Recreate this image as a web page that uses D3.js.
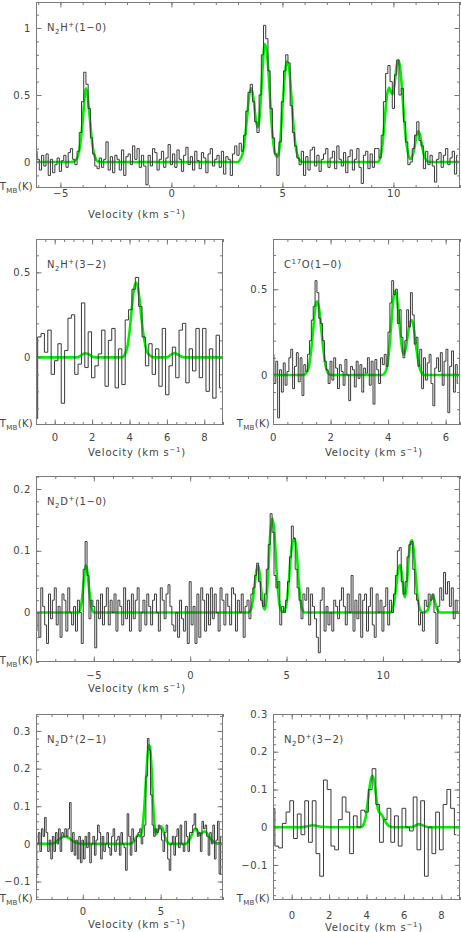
<!DOCTYPE html>
<html><head><meta charset="utf-8">
<script src="https://cdn.jsdelivr.net/npm/d3@7"></script>
<style>html,body{margin:0;padding:0;background:#fff;} svg{display:block;}</style>
</head><body><svg id="c" width="461" height="932"></svg>
<script>
// ---------- DATA ----------
// N2H+(1-0): observed spectrum (channel start -6.1 km/s, width 0.1 km/s)
const n2h10Start = -6.1, n2h10Width = 0.1;
const n2h10Obs = [.08,.02,-.06,.05,-.03,.06,-.1,.02,-.08,-.02,
  .03,-.07,.01,.05,-.04,.07,.1,
  .02,-.02,.08,.22,.45,.67,.58,.4,.18,.06,-.03,
  -.05,.03,-.04,.02,.15,-.06,.04,-.08,.05,.02,-.06,.09,
  -.1,.04,.06,-.02,.12,.02,.1,-.04,.05,-.03,
  -.17,
  .05,-.03,.1,.07,-.06,.02,.08,-.04,.03,.13,-.02,
  .06,-.04,.09,.02,-.07,.05,.11,-.02,.04,-.06,
  .08,.01,-.05,.07,.03,-.08,.06,.1,-.03,.02,
  .05,-.04,.08,-.09,.04,.02,-.1,.06,.12,
  .05,.14,.08,.2,.38,.52,.58,.45,.3,.22,.5,.8,1.02,.92,.68,.4,.18,.06,-.1,.15,.45,.68,.8,.74,.42,.22,.12,.03,-.02,.08,
  -.1,.04,-.06,.09,.11,-.03,.05,-.07,.02,.06,
  .1,-.04,.03,.08,-.05,.12,.02,-.03,.07,-.08,
  .04,.09,-.06,.02,.1,-.04,-.16,.05,.08,-.05,
  .06,-.04,.1,.1,.03,.2,.45,.66,.72,.6,
  .4,.65,.76,.5,.55,.3,.15,-.02,.0,.1,
  .2,.3,.16,.12,-.05,.08,-.02,.05,-.03,-.15,
  .02,.07,-.04,.05,.1,-.02,.03,.08,-.09,.05];
// N2H+(1-0): hyperfine fit [velocity, T]
const n2h10Fit = [[-6.1,0],[-4.5,0],[-4.4,.004],[-4.3,.016],[-4.2,.05],[-4.1,.14],[-4.0,.3],[-3.9,.5],[-3.85,.55],[-3.8,.52],[-3.7,.37],[-3.6,.19],[-3.5,.07],[-3.4,.02],[-3.3,.004],[-3.2,0],
  [3.0,0],[3.1,.02],[3.2,.06],[3.3,.16],[3.4,.32],[3.5,.49],[3.6,.55],[3.7,.47],[3.8,.32],[3.88,.26],[3.95,.3],[4.0,.4],[4.1,.68],[4.2,.88],[4.3,.82],[4.4,.6],[4.5,.32],[4.6,.13],[4.7,.05],[4.77,.04],[4.85,.08],[4.9,.15],[5.0,.4],[5.1,.63],[5.2,.75],[5.3,.7],[5.4,.5],[5.5,.27],[5.6,.11],[5.7,.04],[5.8,.01],[5.9,0],
  [9.3,0],[9.4,.03],[9.5,.12],[9.6,.3],[9.7,.48],[9.8,.555],[9.9,.52],[9.96,.505],[10.05,.58],[10.15,.72],[10.22,.76],[10.3,.71],[10.4,.52],[10.5,.29],[10.6,.12],[10.7,.04],[10.77,.02],[10.85,.04],[10.95,.11],[11.05,.2],[11.13,.23],[11.2,.2],[11.3,.11],[11.4,.04],[11.5,.01],[11.6,0],[13,0]];

// N2H+(3-2)
const n2h32Start = -1, n2h32Width = 0.18;
const n2h32Obs = [-.36,.12,.14,.03,.16,-.1,-.02,.08,-.27,.04,
  .23,.25,-.1,-.04,.32,-.06,.15,-.12,-.05,.02,
  .16,-.17,.1,.17,-.18,.05,-.16,.22,.28,.4,
  .47,.3,.12,-.05,.08,-.1,.05,-.17,.17,-.22,
  -.05,.06,-.12,.16,.2,-.15,.05,-.08,.17,-.12,
  .17,-.2,.05,-.24,.13,-.18];
const n2h32Fit = [[-1,0],[1.2,0],[1.4,.01],[1.6,.024],[1.8,.02],[2.0,.005],[2.2,0],[3.6,0],[3.8,.03],[3.9,.07],[4.0,.15],[4.1,.26],[4.2,.37],[4.3,.43],[4.37,.44],[4.45,.41],[4.55,.33],[4.65,.22],[4.75,.13],[4.85,.07],[4.95,.03],[5.1,.01],[5.3,0],[6.0,0],[6.2,.015],[6.4,.025],[6.6,.015],[6.8,.003],[7.0,0],[9,0]];

// C17O(1-0)
const c17oStart = 0, c17oWidth = 0.065;
const c17oObs = [.12,-.05,.08,-.25,.03,-.1,.07,-.06,.02,.1,
  .15,-.08,.05,.13,-.04,.1,-.12,.06,
  .02,.12,.2,.32,.4,.55,.48,.33,.3,.2,.08,.03,-.05,
  .08,-.03,.1,.04,-.08,.06,.02,-.06,.09,.0,
  -.15,.05,.03,-.07,.08,-.02,.06,-.1,.04,.01,
  .1,-.06,.08,-.17,.09,.03,-.05,.1,.06,
  .12,.05,.25,.42,.55,.47,.5,.3,.38,.22,.1,.2,.38,.28,.48,.35,.18,.22,.05,.15,
  -.08,.1,-.03,.07,.12,-.05,-.18,.04,.1,.02,
  .13,-.06,.08,.15,-.22,.05,.14,-.1,.06,-.05];
const c17oFit = [[0,0],[1.05,0],[1.15,.01],[1.25,.05],[1.33,.15],[1.4,.27],[1.47,.39],[1.53,.43],[1.6,.39],[1.67,.28],[1.75,.15],[1.82,.06],[1.9,.015],[2.0,0],
  [3.8,0],[3.9,.015],[3.98,.06],[4.05,.17],[4.12,.32],[4.18,.44],[4.24,.49],[4.3,.46],[4.37,.35],[4.44,.22],[4.5,.14],[4.55,.12],[4.62,.16],[4.7,.25],[4.77,.31],[4.82,.32],[4.88,.29],[4.95,.2],[5.02,.11],[5.1,.04],[5.18,.01],[5.25,0],[6.5,0]];

// N2D+(1-0)
const n2d10Start = -8, n2d10Width = 0.1;
const n2d10Obs = [-.03,.0,-.04,.04,.01,-.02,-.05,.03,-.01,.02,
  .04,-.02,.01,-.04,.03,.02,-.03,.04,.0,-.02,
  .01,-.03,.02,.0,-.05,.07,.115,.06,-.01,.02,
  .01,-.057,.02,-.01,.03,-.02,.01,.04,-.02,.02,
  .0,.03,-.03,.02,.01,-.02,.04,-.01,.02,-.03,
  .03,-.01,.02,.04,-.03,.0,.02,-.02,.03,.01,
  -.02,.02,.03,.0,-.03,.04,.02,-.01,.03,.045,
  .01,-.02,-.03,.0,-.04,.02,-.01,-.03,.01,-.05,
  .05,-.02,.01,-.05,.03,-.04,.04,.02,-.03,.03,
  -.02,.04,-.01,.03,.0,-.03,.04,.02,-.02,.03,
  .01,-.02,.04,.03,-.03,.02,.0,.03,-.04,.01,
  .02,-.01,.03,.04,.06,.08,.05,.02,.01,.03,.07,.11,.16,.13,.06,.04,.05,-.02,.01,.0,.02,.05,.09,.14,.12,.07,.04,.02,-.01,.03,
  .02,.04,-.02,.03,.01,-.01,-.04,-.065,.02,.04,
  -.03,.01,-.02,.0,-.03,.02,.01,-.01,.02,.04,
  .01,-.02,.03,.0,.06,-.03,.02,-.01,.03,-.04,
  .02,.03,-.03,.01,.04,-.02,-.04,.03,.0,.02,
  -.03,.01,.04,-.02,.02,.0,.03,.06,.1,.105,
  .05,.03,.05,.09,.11,.115,.07,.03,.02,-.02,
  .0,-.03,.02,.01,.03,.02,.03,.0,-.05,.01,
  .04,.02,.065,.03,.05,.01,.04,-.01,.02,.0];
const n2d10Fit = [[-8,0],[-5.8,0],[-5.7,.006],[-5.6,.025],[-5.5,.058],[-5.42,.076],[-5.35,.07],[-5.25,.04],[-5.15,.013],[-5.05,.002],[-4.95,0],
  [3.0,0],[3.15,.005],[3.25,.02],[3.35,.046],[3.45,.07],[3.52,.076],[3.6,.065],[3.7,.033],[3.8,.01],[3.87,.005],[3.95,.018],[4.05,.065],[4.15,.125],[4.27,.152],[4.37,.13],[4.47,.075],[4.57,.03],[4.67,.008],[4.8,.001],[4.9,.004],[5.0,.015],[5.1,.045],[5.22,.09],[5.32,.115],[5.42,.12],[5.52,.1],[5.62,.055],[5.72,.02],[5.82,.005],[5.95,0],
  [10.4,0],[10.5,.006],[10.6,.02],[10.7,.045],[10.8,.07],[10.9,.077],[11.0,.058],[11.1,.028],[11.15,.025],[11.25,.05],[11.35,.092],[11.45,.115],[11.52,.117],[11.6,.1],[11.7,.06],[11.8,.025],[11.9,.007],[12.0,.001],[12.1,0],[12.3,.003],[12.42,.013],[12.5,.022],[12.58,.027],[12.66,.022],[12.75,.011],[12.85,.003],[12.95,0],[14,0]];

// N2D+(2-1)
const n2d21Start = -3, n2d21Width = 0.1;
const n2d21Obs = [-.09,.0,.03,-.02,.04,.02,.07,.03,-.02,.01,
  -.04,.02,-.02,.03,.0,.04,-.02,.03,.02,.04,
  .02,.04,.11,-.02,.03,-.03,.01,-.04,.02,-.05,
  .01,-.04,.02,-.01,.03,-.05,.0,.02,-.03,.01,
  .05,.03,-.04,.02,-.02,.0,.03,-.01,-.03,.02,
  .04,-.02,.01,.02,-.03,.03,.0,-.01,-.07,.08,
  .02,-.03,.04,.01,-.02,.02,.03,.04,.0,.02,
  .05,.18,.28,.25,.13,.05,.02,.04,.03,.05,
  .04,.01,-.02,.03,.05,-.04,-.07,.0,.02,-.03,
  .02,.04,-.01,.05,.0,-.02,.06,.02,-.02,.03,
  .03,.05,.08,.04,.02,.03,-.02,.06,.04,.05,
  .02,-.03,.03,.0,.05,-.04,.01,.06,-.08,.02];
const n2d21Fit = [[-3,0],[-2.0,0],[-1.8,.003],[-1.6,.009],[-1.4,.016],[-1.2,.019],[-1.0,.018],[-0.8,.013],[-0.6,.007],[-0.4,.003],[-0.2,.001],[0,0],
  [3.0,0],[3.2,.003],[3.35,.012],[3.5,.022],[3.58,.024],[3.68,.02],[3.78,.03],[3.9,.07],[4.0,.13],[4.1,.2],[4.2,.25],[4.28,.262],[4.36,.24],[4.45,.17],[4.55,.08],[4.65,.035],[4.72,.026],[4.82,.035],[4.95,.044],[5.05,.046],[5.15,.038],[5.25,.022],[5.38,.008],[5.5,.002],[5.6,0],
  [6.6,0],[6.75,.005],[6.9,.015],[7.05,.03],[7.2,.04],[7.3,.039],[7.42,.028],[7.52,.024],[7.65,.029],[7.8,.033],[7.95,.03],[8.1,.02],[8.3,.009],[8.5,.003],[8.7,.001],[8.85,0],[9,0]];

// N2D+(3-2)
const n2d32Start = -1, n2d32Width = 0.2;
const n2d32Obs = [.05,-.05,-.055,.01,.04,.07,-.03,.035,-.02,.07,
  -.04,.07,-.07,-.13,.125,.1,-.05,-.06,.02,.08,
  .04,-.07,.03,.0,.045,.04,.1,.155,.06,-.04,
  .02,.05,-.04,.03,-.05,.05,.0,-.01,.08,-.06,
  .07,-.13,.0,-.07,.04,-.06,.06,.1,.05,-.02];
const n2d32Fit = [[-1,0],[0.5,0],[0.8,.002],[1.1,.005],[1.3,.004],[1.6,.001],[2.0,0],[3.7,0],[3.85,.008],[3.95,.025],[4.05,.06],[4.15,.1],[4.25,.13],[4.33,.136],[4.42,.12],[4.52,.08],[4.6,.05],[4.68,.04],[4.75,.036],[4.85,.03],[4.95,.02],[5.05,.011],[5.15,.005],[5.3,.001],[5.45,0],[6.4,0],[6.6,.004],[6.8,.008],[7.0,.005],[7.2,.001],[7.4,0],[9,0]];

// Tick values (labelled)
const xTicksWide = [-5, 0, 5, 10];
const xTicksEven = [0, 2, 4, 6, 8];
const xTicksC17O = [0, 2, 4, 6];
const xTicksN2D21 = [0, 5];
const yTicksN2H10 = [0, 0.5, 1];
const yTicksHalf = [0, 0.5];
const yTicksN2D10 = [0, 0.1, 0.2];
const yTicksN2D = [-0.1, 0, 0.1, 0.2, 0.3];

// Titles: [text, mode]
const titleN2H10 = [['N'],['2','sub'],['H'],['+','sup'],['(1−0)']];
const titleN2H32 = [['N'],['2','sub'],['H'],['+','sup'],['(3−2)']];
const titleC17O = [['C'],['17','sup'],['O(1−0)']];
const titleN2D10 = [['N'],['2','sub'],['D'],['+','sup'],['(1−0)']];
const titleN2D21 = [['N'],['2','sub'],['D'],['+','sup'],['(2−1)']];
const titleN2D32 = [['N'],['2','sub'],['D'],['+','sup'],['(3−2)']];

// ---------- LAYOUT ----------
const panels = [
  {id:'a', title:titleN2H10, obs:n2h10Obs, v0:n2h10Start, dv:n2h10Width, fit:n2h10Fit,
   xd:[-6.1,13], yd:[-0.194,1.194], box:[36,2,460,188], xt:xTicksWide, xm:1, yt:yTicksN2H10, ym:0.1, xpad:2, vel:29.5},
  {id:'b', title:titleN2H32, obs:n2h32Obs, v0:n2h32Start, dv:n2h32Width, fit:n2h32Fit,
   xd:[-1,9], yd:[-0.398,0.696], box:[36,239,223,425], xt:xTicksEven, xm:0.5, yt:yTicksHalf, ym:0.1, xpad:9, vel:31},
  {id:'c', title:titleC17O, obs:c17oObs, v0:c17oStart, dv:c17oWidth, fit:c17oFit,
   xd:[0,6.5], yd:[-0.292,0.793], box:[273,239,460,425], xt:xTicksC17O, xm:0.5, yt:yTicksHalf, ym:0.1, xpad:9, vel:31},
  {id:'d', title:titleN2D10, obs:n2d10Obs, v0:n2d10Start, dv:n2d10Width, fit:n2d10Fit,
   xd:[-8,14], yd:[-0.08,0.221], box:[36,476,460,662], xt:xTicksWide, xm:1, yt:yTicksN2D10, ym:0.02, xpad:9.5, vel:29.5},
  {id:'e', title:titleN2D21, obs:n2d21Obs, v0:n2d21Start, dv:n2d21Width, fit:n2d21Fit,
   xd:[-3,9], yd:[-0.149,0.345], box:[36,714,223,900], xt:xTicksN2D21, xm:1, yt:yTicksN2D, ym:0.02, xpad:8, vel:28},
  {id:'f', title:titleN2D32, obs:n2d32Obs, v0:n2d32Start, dv:n2d32Width, fit:n2d32Fit,
   xd:[-1,9], yd:[-0.193,0.3], box:[273,714,460,900], xt:xTicksEven, xm:0.5, yt:yTicksN2D, ym:0.02, xpad:11.5, vel:30.5}
];

const svg = d3.select('#c');
const FONT = "'DejaVu Sans', sans-serif";
const TXT = '#444';
const FRAME = '#7a7a7a';
const FS = 10;

function rich(textSel, parts, size) {
  let cur = 0;
  parts.forEach(([s, m]) => {
    const target = m === 'sub' ? 3 : m === 'sup' ? -4 : 0;
    textSel.append('tspan').attr('dy', target - cur).attr('font-size', m ? size * 0.7 : size).text(s);
    cur = target;
  });
}
function minorTicks(dom, step) {
  const out = [];
  const a = Math.ceil(dom[0] / step - 1e-9), b = Math.floor(dom[1] / step + 1e-9);
  for (let k = a; k <= b; k++) out.push(+(k * step).toFixed(4));
  return out;
}
const defs = svg.append('defs');

panels.forEach(p => {
  const [L, T, R, B] = p.box;
  const x = d3.scaleLinear().domain(p.xd).range([L, R]);
  const y = d3.scaleLinear().domain(p.yd).range([B, T]);
  const g = svg.append('g');
  defs.append('clipPath').attr('id', 'clip-' + p.id)
    .append('rect').attr('x', L).attr('y', T).attr('width', R - L).attr('height', B - T);
  const plot = g.append('g').attr('clip-path', `url(#clip-${p.id})`);

  const fitLine = d3.line().x(d => x(d[0])).y(d => y(d[1])).curve(d3.curveMonotoneX);
  plot.append('path').datum(p.fit).attr('d', fitLine)
    .attr('fill', 'none').attr('stroke', '#00ee00').attr('stroke-width', 2.6).attr('stroke-linejoin', 'round');

  const pts = p.obs.map((t, i) => [p.v0 + i * p.dv, t]);
  const stepLine = d3.line().x(d => x(d[0])).y(d => y(d[1])).curve(d3.curveStep);
  plot.append('path').datum(pts).attr('d', stepLine)
    .attr('fill', 'none').attr('stroke', '#3a3a3a').attr('stroke-width', 1);

  // frame
  g.append('rect').attr('x', L + 0.5).attr('y', T + 0.5).attr('width', R - L - 1).attr('height', B - T - 1)
    .attr('fill', 'none').attr('stroke', FRAME).attr('stroke-width', 1);

  const xmin = minorTicks(p.xd, p.xm), ymin = minorTicks(p.yd, p.ym);
  const fmt = d3.format('');
  const axes = [
    [d3.axisBottom(x).tickValues(xmin).tickSize(-3).tickFormat(''), `translate(0,${B})`],
    [d3.axisBottom(x).tickValues(p.xt).tickSize(-5.5).tickPadding(p.xpad).tickFormat(fmt), `translate(0,${B})`],
    [d3.axisTop(x).tickValues(xmin).tickSize(-3).tickFormat(''), `translate(0,${T})`],
    [d3.axisTop(x).tickValues(p.xt).tickSize(-5.5).tickFormat(''), `translate(0,${T})`],
    [d3.axisLeft(y).tickValues(ymin).tickSize(-3).tickFormat(''), `translate(${L},0)`],
    [d3.axisLeft(y).tickValues(p.yt).tickSize(-5.5).tickPadding(5).tickFormat(fmt), `translate(${L},0)`],
    [d3.axisRight(y).tickValues(ymin).tickSize(-3).tickFormat(''), `translate(${R},0)`],
    [d3.axisRight(y).tickValues(p.yt).tickSize(-5.5).tickFormat(''), `translate(${R},0)`]
  ];
  axes.forEach(([ax, tr]) => {
    const a = g.append('g').attr('transform', tr).call(ax);
    a.select('.domain').remove();
    a.selectAll('.tick line').attr('stroke', FRAME);
    a.selectAll('.tick text').attr('fill', TXT).attr('font-family', FONT).attr('font-size', FS)
      .attr('letter-spacing', 0.6);
  });

  // title
  const tt = g.append('text').attr('x', L + 11).attr('y', T + 28.5).attr('fill', TXT)
    .attr('font-family', FONT).attr('font-size', FS).attr('letter-spacing', 0.6);
  rich(tt, p.title, FS);

  // T_MB(K)
  const ty = g.append('text').attr('x', L - 3).attr('y', B + 2).attr('text-anchor', 'end').attr('fill', TXT)
    .attr('font-family', FONT).attr('font-size', FS).attr('letter-spacing', 0.3);
  rich(ty, [['T'], ['MB', 'sub'], ['(K)']], FS);

  // velocity label
  const tv = g.append('text').attr('x', L + 52).attr('y', B + p.vel).attr('fill', TXT)
    .attr('font-family', FONT).attr('font-size', FS).attr('letter-spacing', 0.8);
  rich(tv, [['Velocity (km s'], ['−1', 'sup'], [')']], FS);
});
</script>
</body></html>
